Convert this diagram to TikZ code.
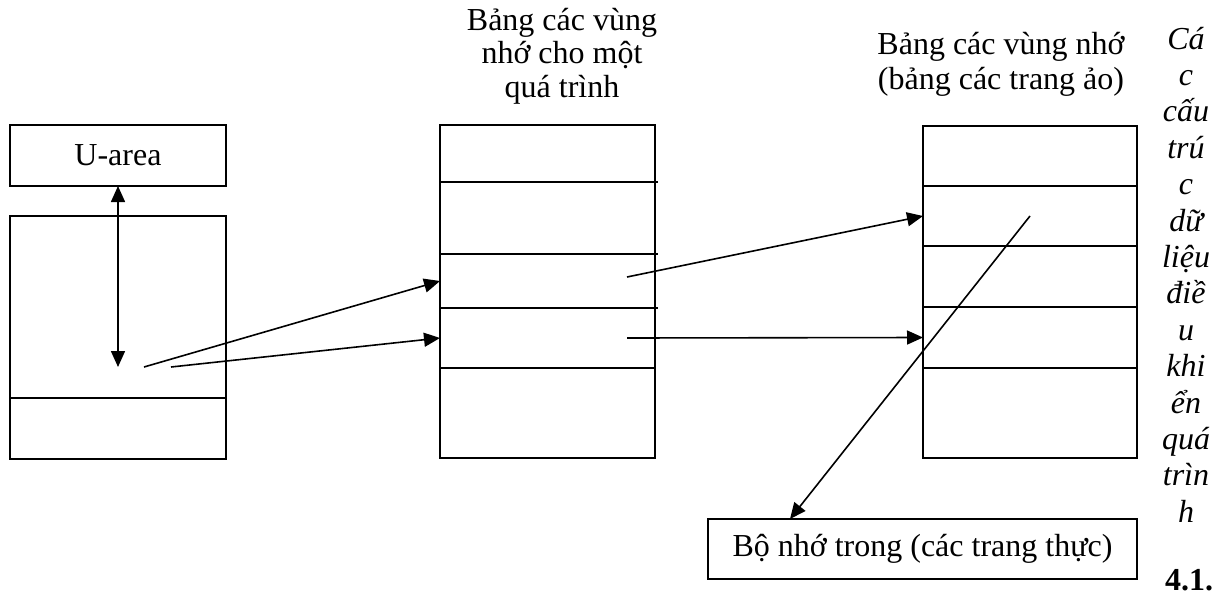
\documentclass[tikz,border=0pt]{standalone}
\usepackage{fontspec}
\setmainfont{Liberation Serif}
\usetikzlibrary{arrows.meta}

\tikzset{
  cell/.style   = {draw, line width=1.7pt, inner sep=0pt, outer sep=0pt, anchor=north west},
  link/.style   = {line width=1.6pt, -{Triangle[length=16pt, width=14pt]}},
  twoway/.style = {line width=1.6pt, {Triangle[length=16pt, width=14pt]}-{Triangle[length=16pt, width=14pt]}},
  head/.style   = {align=center, anchor=north, inner sep=0pt},
}

\begin{document}
\begin{tikzpicture}[x=1pt, y=-1pt, font=\fontsize{32}{35}\selectfont]
  \useasboundingbox (0,0) rectangle (1219,600);

  % process side
  \node[cell, minimum width=216, minimum height=61] (uarea) at (10,125) {};
  \node at (uarea.center) {U-area};
  \node[cell, minimum width=216, minimum height=182] (p1) at (10,216) {};
  \node[cell, minimum width=216, minimum height=61]  (p2) at (10,398) {};

  % per process region table
  \node[head, font=\fontsize{32}{33.5}\selectfont] (mhead) at (562,8) {Bảng các vùng\\nhớ cho một\\quá trình};
  \foreach \top/\h [count=\i] in {125/57, 182/72, 254/54, 308/60, 368/90}
    \node[cell, minimum width=215, minimum height=\h] (m\i) at (440,\top) {};
  \foreach \i in {2,3,4}
    \draw[line width=1.6pt] (m\i.north east) -- ++(3,0);

  % region table
  \node[head] (rhead) at (1001,32) {Bảng các vùng nhớ\\(bảng các trang ảo)};
  \foreach \top/\h [count=\i] in {126/60, 186/60, 246/61, 307/61, 368/90}
    \node[cell, minimum width=214, minimum height=\h] (r\i) at (923,\top) {};

  % main memory
  \node[cell, minimum width=429, minimum height=60] (mem) at (708,519) {};
  \node at (mem.center) {Bộ nhớ trong (các trang thực)};

  % caption column
  \foreach \w [count=\i] in {Cá,c,cấu,trú,c,dữ,liệu,điề,u,khi,ển,quá,trìn,h}
    \node[anchor=base, inner sep=0pt, font=\fontsize{32}{35}\selectfont\itshape] (word\i) at (1186,{49+36.4*(\i-1)}) {\w};
  \node[anchor=base, inner sep=0pt, font=\fontsize{32}{35}\selectfont\bfseries] (fignum) at (1189,590) {4.1.};

  \coordinate (s1) at (144,367);
  \coordinate (s2) at (171,367);
  \coordinate (s3) at (118,367);
  \coordinate (s4) at (627,277);
  \coordinate (s5) at (627,338);
  \coordinate (s6) at (1030,216);
  \coordinate (t6) at (790,519);

  \draw[twoway] (uarea.south) -- (s3);
  \draw[link] (s1) -- (m3.west);
  \draw[link] (s2) -- (m4.west);
  \draw[link] (s4) -- (r2.west);
  \draw[link] (s5) -- (r4.west);
  \draw[link] (s6) -- (t6);
\end{tikzpicture}
\end{document}
